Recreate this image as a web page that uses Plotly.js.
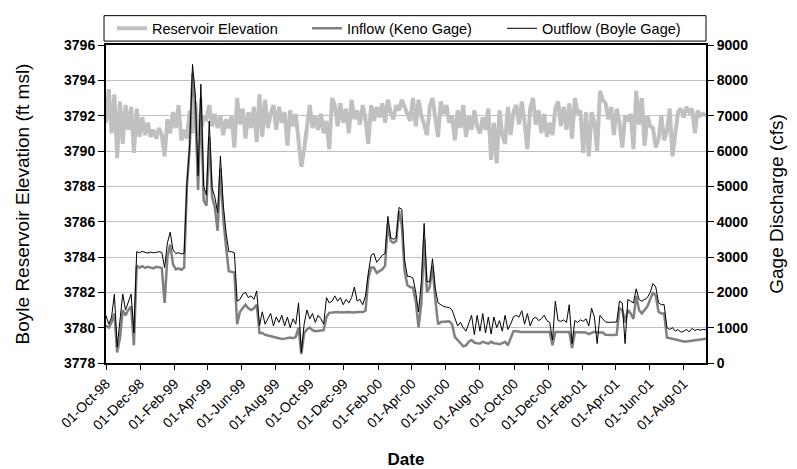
<!DOCTYPE html>
<html>
<head>
<meta charset="utf-8">
<script src="https://cdn.plot.ly/plotly-3.0.1.min.js"></script>
<style>html,body{margin:0;padding:0;background:#fff;}#chart{width:797px;height:469px;}</style>
</head>
<body>
<div id="chart"></div>
<script>
// Sampling grid: one value every 5 days starting 01-Oct-1998
const sampleStart = '1998-10-01';
const sampleStepDays = 5;

// Reservoir elevation (ft msl), left axis
const elevation = [
3791.6,3793.5,3791.0,3793.2,3789.6,3792.8,3790.4,3792.6,3791.2,3792.5,
3789.9,3792.4,3790.8,3791.9,3790.9,3791.6,3790.8,3791.2,3790.7,3791.3,
3790.9,3789.7,3791.8,3791.0,3792.2,3791.3,3792.6,3790.6,3791.2,3790.7,
3792.3,3791.0,3792.8,3790.9,3791.2,3791.9,3791.8,3792.6,3791.4,3792.1,
3791.3,3792.0,3790.9,3791.8,3791.3,3792.0,3790.2,3793.0,3791.5,3792.4,
3790.7,3792.2,3791.3,3792.5,3790.5,3793.2,3790.8,3792.9,3791.3,3792.1,
3792.6,3791.2,3792.5,3791.6,3792.2,3790.3,3792.3,3791.4,3792.1,3790.8,
3789.1,3790.1,3791.5,3792.6,3791.3,3792.0,3791.2,3792.1,3791.0,3791.7,
3790.1,3793.0,3792.6,3791.4,3792.7,3791.6,3792.4,3791.0,3792.9,3791.8,
3792.3,3791.5,3792.6,3791.8,3790.4,3792.6,3791.7,3792.5,3791.9,3792.7,
3791.6,3792.9,3792.2,3791.8,3792.6,3792.3,3792.9,3792.5,3792.0,3791.7,
3793.0,3791.4,3792.9,3792.0,3791.5,3790.9,3792.5,3793.0,3791.9,3790.8,
3792.8,3792.1,3792.6,3791.6,3792.0,3790.6,3792.3,3791.3,3792.6,3790.8,
3792.0,3791.2,3792.3,3791.4,3791.0,3791.9,3791.2,3792.4,3789.5,3791.6,
3789.3,3792.3,3790.9,3790.4,3792.5,3790.9,3792.2,3792.6,3791.5,3792.8,
3791.6,3790.1,3792.4,3793.0,3791.5,3792.3,3791.0,3792.1,3790.8,3791.6,
3790.9,3792.4,3792.8,3791.4,3792.5,3791.2,3792.7,3790.7,3793.0,3792.1,
3792.3,3789.9,3792.2,3789.7,3792.2,3791.6,3790.0,3793.4,3792.9,3792.7,
3791.8,3792.5,3790.9,3792.4,3791.6,3790.2,3792.0,3791.7,3792.1,3790.1,
3793.4,3791.5,3793.0,3790.3,3792.0,3791.4,3791.3,3790.2,3790.7,3792.0,
3790.6,3791.1,3792.4,3789.7,3791.0,3792.2,3792.4,3791.9,3792.5,3792.2,
3792.4,3791.0,3792.3,3792.0,3792.1,3792.0
];

// Inflow at Keno gage (cfs), right axis
const inflow = [
1060,1000,1150,1400,300,700,1500,1350,1500,1600,
500,2750,2700,2740,2690,2720,2700,2680,2720,2700,
2690,1700,3000,3350,2800,2650,2680,2640,2700,5000,
6100,8200,7200,4900,7500,4600,4450,6400,4700,4400,
3740,5500,4100,3300,2600,2580,2560,1100,1450,1550,
1650,1550,1500,1550,1650,850,850,800,780,740,
720,700,690,680,690,700,720,700,740,1000,
250,850,950,1000,930,900,920,920,930,1300,
1420,1430,1430,1440,1430,1440,1440,1440,1430,1440,
1440,1440,1440,1480,2400,2700,2700,2550,2600,2650,
2750,3950,3450,3400,3450,4300,3900,2600,2200,2150,
2130,1750,1000,1700,3500,2000,2150,2750,1800,1100,
1160,1170,1180,1180,1100,740,650,560,470,500,
600,650,580,560,550,600,570,550,600,560,
550,530,560,600,500,700,900,900,880,880,
880,880,880,880,880,880,880,880,880,880,
500,880,880,880,880,880,880,420,870,870,
870,860,860,820,850,880,860,860,860,800,
790,800,790,800,1550,1500,1150,1500,1400,1250,
1900,1500,1400,1500,1600,1800,2000,1900,1450,1400,
1400,720,700,680,660,640,620,610,610,620,
630,650,670,680,690,690
];

// Outflow at Boyle gage (cfs), right axis
const outflow = [
1340,1100,1300,1950,450,1200,1950,1500,1700,1950,
850,3150,3120,3160,3130,3110,3140,3120,3130,3150,
3130,2700,3400,3700,3200,3100,3120,3090,3100,5100,
6200,8450,7600,5300,7890,5000,4750,6850,4950,4700,
4250,5860,4500,3700,3150,3150,3120,1750,1800,1950,
2000,1850,1900,1800,2040,1050,1450,1100,1250,1400,
1050,1300,1150,1350,1050,1300,1000,1250,1100,1700,
300,1100,1500,1250,1400,1150,1350,1250,1100,1850,
1700,1750,1900,1750,1850,1650,1800,1700,1850,2150,
1750,1800,1650,1900,2550,3050,3100,2850,2950,3050,
3100,4150,3550,3500,3550,4400,4350,2900,2450,2450,
2400,2000,1450,2300,3950,2300,2300,2950,2100,1700,
1650,1600,1580,1570,1500,1280,1050,1150,1000,900,
1150,1350,800,1350,900,1400,850,1300,820,1300,
1000,1200,900,1350,950,1100,1300,1350,1300,1480,
1100,1400,1050,1250,1300,1200,1250,1350,1200,1150,
650,1750,1200,1180,1220,1150,1650,550,1200,1150,
1220,1180,1250,1050,1550,1300,550,1350,1250,1160,
1150,1160,1150,1160,1750,1700,550,1800,1750,1700,
2100,1800,1750,1800,1850,2000,2250,2150,1700,1650,
1650,1000,950,1000,900,950,870,900,950,880,
980,920,950,930,950,940
];

// X axis ticks
const xTickVals = ['1998-10-01','1998-12-01','1999-02-01','1999-04-01','1999-06-01','1999-08-01',
  '1999-10-01','1999-12-01','2000-02-01','2000-04-01','2000-06-01','2000-08-01',
  '2000-10-01','2000-12-01','2001-02-01','2001-04-01','2001-06-01','2001-08-01'];
const xTickText = ['01-Oct-98','01-Dec-98','01-Feb-99','01-Apr-99','01-Jun-99','01-Aug-99',
  '01-Oct-99','01-Dec-99','01-Feb-00','01-Apr-00','01-Jun-00','01-Aug-00',
  '01-Oct-00','01-Dec-00','01-Feb-01','01-Apr-01','01-Jun-01','01-Aug-01'];

// Build the date grid
const t0 = Date.UTC(1998, 9, 1);
const dates = elevation.map((_, i) =>
  new Date(t0 + i * sampleStepDays * 86400000).toISOString().slice(0, 10));

const FONT = 'Arial, "Liberation Sans", sans-serif';

const traces = [
  {x: dates, y: elevation, name: 'Reservoir Elevation', type: 'scatter', mode: 'lines',
   yaxis: 'y', line: {color: '#c0c0c0', width: 4}},
  {x: dates, y: inflow, name: 'Inflow (Keno Gage)', type: 'scatter', mode: 'lines',
   yaxis: 'y2', line: {color: '#808080', width: 2.5}},
  {x: dates, y: outflow, name: 'Outflow (Boyle Gage)', type: 'scatter', mode: 'lines',
   yaxis: 'y2', line: {color: '#000000', width: 1}}
];

const layout = {
  width: 797, height: 469,
  margin: {l: 106, r: 91, t: 38, b: 106, pad: 0},
  paper_bgcolor: '#ffffff', plot_bgcolor: '#ffffff',
  font: {family: FONT, color: '#000000', size: 13},
  showlegend: true,
  legend: {orientation: 'h', x: 0.01, xanchor: 'left', y: 1.0523, yanchor: 'middle',
    borderwidth: 0, bgcolor: 'rgba(0,0,0,0)',
    font: {family: FONT, size: 14.5, color: '#000000'},
    entrywidth: 150, entrywidthmode: 'pixels', traceorder: 'normal', itemwidth: 30},
  shapes: [{type: 'rect', xref: 'paper', yref: 'paper', x0: -0.0033, x1: 1.0, y0: 1.0123, y1: 1.0923,
    line: {color: '#000000', width: 1}, fillcolor: 'rgba(0,0,0,0)', layer: 'below'}],
  xaxis: {type: 'date', range: ['1998-10-01', '2001-09-10'],
    tickmode: 'array', tickvals: xTickVals, ticktext: xTickText, tickangle: -45,
    tickfont: {family: FONT, size: 14, color: '#000000'},
    ticks: 'outside', ticklen: 5, tickwidth: 1, tickcolor: '#000000',
    showline: true, linewidth: 2, linecolor: '#000000', mirror: true,
    showgrid: false, zeroline: false, automargin: false,
    title: {text: 'Date', font: {family: FONT, size: 17, weight: 'bold', color: '#000000'}, standoff: 22}},
  yaxis: {range: [3778, 3796], tick0: 3778, dtick: 2, tickformat: 'd',
    tickfont: {family: FONT, size: 14, weight: 'bold', color: '#000000'},
    ticks: 'outside', ticklen: 6, tickwidth: 1, tickcolor: '#000000',
    showline: true, linewidth: 2, linecolor: '#000000', mirror: true,
    showgrid: true, gridcolor: '#c0c0c0', gridwidth: 1, zeroline: false, automargin: false,
    title: {text: 'Boyle Reservoir Elevation (ft msl)', font: {family: FONT, size: 19, color: '#000000'}, standoff: 29}},
  yaxis2: {overlaying: 'y', side: 'right', range: [0, 9000], tick0: 0, dtick: 1000, tickformat: 'd',
    tickfont: {family: FONT, size: 14, weight: 'bold', color: '#000000'},
    ticks: 'outside', ticklen: 6, tickwidth: 1, tickcolor: '#000000',
    showline: true, linewidth: 2, linecolor: '#000000',
    showgrid: false, zeroline: false, automargin: false,
    title: {text: 'Gage Discharge (cfs)', font: {family: FONT, size: 19, color: '#000000'}, standoff: 23}}
};

Plotly.newPlot('chart', traces, layout, {displayModeBar: false, staticPlot: true});
</script>
</body>
</html>
